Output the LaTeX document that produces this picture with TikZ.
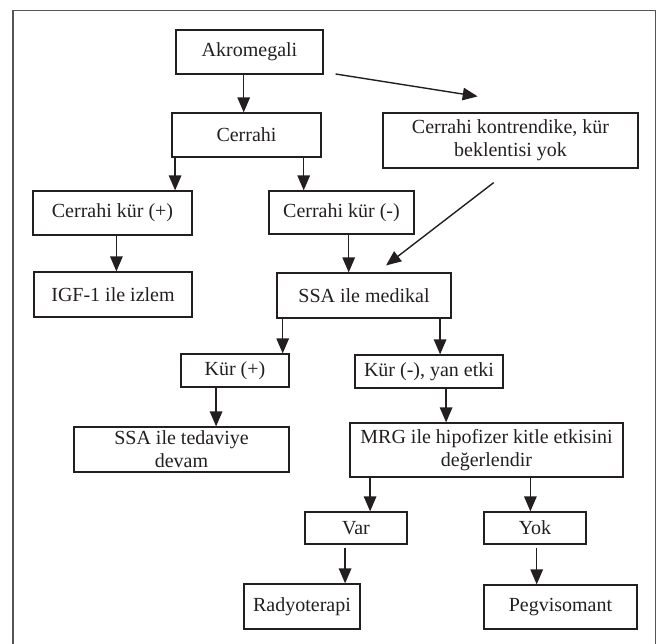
\documentclass[tikz,border=0pt]{standalone}
\usepackage{fontspec}
\setmainfont{Liberation Serif}
\usetikzlibrary{arrows.meta}
\definecolor{ink}{HTML}{231F20}
\definecolor{framegray}{HTML}{555555}
\tikzset{
  box/.style={draw=ink, line width=1.2pt, inner sep=0pt, align=center,
    font=\fontsize{20}{23.3}\selectfont, text=ink},
  arr/.style={draw=ink, line width=1.4pt, -{Triangle[length=15pt,width=12.5pt]}},
  frameline/.style={draw=framegray, line width=1.6pt}
}
\newcommand{\bx}[6]{% name, x1, y1, x2, y2, text
  \node[box, minimum width={#4-#2}, minimum height={#5-#3}] (#1) at ({(#2+#4)/2},{(#3+#5)/2}) {#6};}
\begin{document}
\begin{tikzpicture}[x=1pt,y=-1pt]
\useasboundingbox (0,0) rectangle (657,644);
% outer frame (bottom lies beyond the picture)
\coordinate (fbl) at (13,650);
\coordinate (ftl) at (13,10.5);
\coordinate (ftr) at (655.5,10.5);
\coordinate (fbr) at (655.5,650);
\draw[frameline] (fbl) -- (ftl) -- (ftr) -- (fbr);

\bx{akro}{176}{30}{323}{74}{Akromegali}
\bx{cerr}{172}{113}{321}{157}{Cerrahi}
\bx{kont}{383}{113}{638}{168}{Cerrahi kontrendike, kür\\beklentisi yok}
\bx{kurp}{33}{191}{192}{235}{Cerrahi kür (+)}
\bx{kurm}{269}{191}{414}{234}{Cerrahi kür (-)}
\bx{igf}{34}{272}{192}{317}{IGF-1 ile izlem}
\bx{ssa}{277}{273}{451}{318}{SSA ile medikal}
\bx{kp}{181}{354}{289}{387}{Kür (+)}
\bx{km}{355}{355}{503}{388}{Kür (-), yan etki}
\bx{dev}{74}{427}{289}{472}{SSA ile tedaviye\\devam}
\bx{mrg}{350}{423}{623}{477}{MRG ile hipofizer kitle etkisini\\değerlendir}
\bx{var}{305}{512}{407}{544}{Var}
\bx{yok}{484}{512}{586}{544}{Yok}
\bx{rad}{244}{584}{360}{629}{Radyoterapi}
\bx{peg}{484}{585}{637}{629}{Pegvisomant}

% connectors
\draw[arr] ([xshift=68.3pt]akro.south west) -- ([xshift=72.3pt]cerr.north west);
\draw[arr] ([xshift=3.7pt]cerr.south west) -- ([xshift=142.7pt]kurp.north west);
\draw[arr] ([xshift=132.3pt]cerr.south west) -- ([xshift=35.3pt]kurm.north west);
\draw[arr] ([xshift=12pt,yshift=-22pt]akro.east) -- ([xshift=95.3pt,yshift=16pt]kont.north west);
\draw[arr] ([xshift=80.3pt]kurm.south west) -- ([xshift=72.3pt]ssa.north west);
\draw[arr] ([xshift=111.3pt,yshift=-14pt]kont.south west) -- ([xshift=109.7pt,yshift=7pt]ssa.north west);
\draw[arr] ([xshift=84pt]kurp.south west) -- ([xshift=83pt]igf.north west);
\draw[arr] ([xshift=6.3pt]ssa.south west) -- ([xshift=102.3pt]kp.north west);
\draw[arr] ([xshift=163.7pt]ssa.south west) -- ([xshift=85.7pt]km.north west);
\draw[arr] ([xshift=35.7pt]kp.south west) -- ([xshift=142.7pt]dev.north west);
\draw[arr] ([xshift=91.7pt]km.south west) -- ([xshift=96.7pt]mrg.north west);
\draw[arr] ([xshift=20.7pt]mrg.south west) -- ([xshift=65.7pt]var.north west);
\draw[arr] ([xshift=181pt]mrg.south west) -- ([xshift=47pt]yok.north west);
\draw[arr] ([xshift=40.7pt,yshift=-3pt]var.south west) -- ([xshift=101.7pt]rad.north west);
\draw[arr] ([xshift=53.3pt,yshift=-3pt]yok.south west) -- ([xshift=53.3pt]peg.north west);
\end{tikzpicture}
\end{document}
